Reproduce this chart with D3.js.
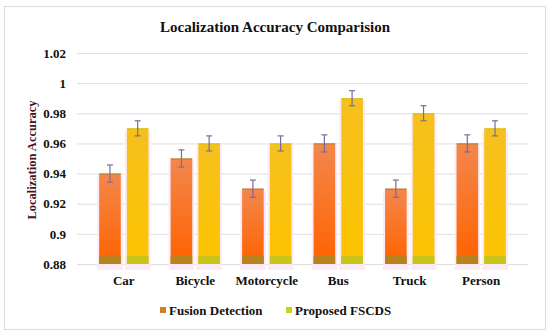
<!DOCTYPE html>
<html>
<head>
<meta charset="utf-8">
<script src="https://cdn.jsdelivr.net/npm/d3@7"></script>
<style>
  html, body { margin: 0; padding: 0; background: #fff; }
  svg { display: block; }
</style>
</head>
<body>
<script>
const categories = ["Car", "Bicycle", "Motorcycle", "Bus", "Truck", "Person"];
const seriesNames = ["Fusion Detection", "Proposed FSCDS"];
const fusionValues = [0.94, 0.95, 0.93, 0.96, 0.93, 0.96];
const fscdsValues = [0.97, 0.96, 0.96, 0.99, 0.98, 0.97];
const fusionErrors = [0.0057, 0.0057, 0.0057, 0.0057, 0.0057, 0.0057];
const fscdsErrors = [0.005, 0.005, 0.005, 0.005, 0.005, 0.005];
const yTicks = [0.88, 0.9, 0.92, 0.94, 0.96, 0.98, 1, 1.02];

const width = 550, height = 336;
const margin = { top: 53, right: 22, bottom: 72, left: 77 };
const iw = width - margin.left - margin.right;
const ih = height - margin.top - margin.bottom;
const font = "'Liberation Serif', 'Times New Roman', serif";

const rows = categories.map((c, i) => ({
  category: c,
  bars: [
    { key: seriesNames[0], value: fusionValues[i], err: fusionErrors[i] },
    { key: seriesNames[1], value: fscdsValues[i], err: fscdsErrors[i] },
  ],
}));

const x0 = d3.scaleBand().domain(categories).range([0, iw]).padding(0.31);
const x1 = d3.scaleBand().domain(seriesNames).range([0, x0.bandwidth()]).paddingInner(0.22);
const y = d3.scaleLinear().domain([0.88, 1.02]).range([ih, 0]);

const svg = d3.select("body").append("svg")
  .attr("width", width).attr("height", height)
  .attr("viewBox", `0 0 ${width} ${height}`);

// gradients
const defs = svg.append("defs");
const gradOrange = defs.append("linearGradient").attr("id", "gOrange")
  .attr("x1", 0).attr("y1", 0).attr("x2", 0).attr("y2", 1);
gradOrange.append("stop").attr("offset", "0%").attr("stop-color", "#f3874c");
gradOrange.append("stop").attr("offset", "100%").attr("stop-color", "#ff6200");
const gradYellow = defs.append("linearGradient").attr("id", "gYellow")
  .attr("x1", 0).attr("y1", 0).attr("x2", 0).attr("y2", 1);
gradYellow.append("stop").attr("offset", "0%").attr("stop-color", "#f6c01e");
gradYellow.append("stop").attr("offset", "100%").attr("stop-color", "#fcc400");

const fills = { "Fusion Detection": "url(#gOrange)", "Proposed FSCDS": "url(#gYellow)" };
const baseFills = { "Fusion Detection": "#b8821e", "Proposed FSCDS": "#c9c419" };
const edgeColors = { "Fusion Detection": "#a8882a", "Proposed FSCDS": "#d6c020" };
const legendColors = { "Fusion Detection": "#d27d2a", "Proposed FSCDS": "#c8d21c" };

// outer frame
svg.append("rect")
  .attr("x", 4.5).attr("y", 6.5).attr("width", 541).attr("height", 323)
  .attr("fill", "none").attr("stroke", "#dcdcdc").attr("stroke-width", 1);

// title
svg.append("text")
  .attr("x", 275).attr("y", 32)
  .attr("text-anchor", "middle")
  .style("font-family", font).style("font-size", "15px").style("font-weight", "bold")
  .attr("fill", "#111")
  .text("Localization Accuracy Comparision");

const g = svg.append("g").attr("transform", `translate(${margin.left},${margin.top})`);

// gridlines + y labels
const yAxis = g.append("g")
  .call(d3.axisLeft(y).tickValues(yTicks).tickSize(-iw).tickFormat(d3.format("~g")));
yAxis.select(".domain").remove();
yAxis.selectAll(".tick line").attr("stroke", "#dedede").attr("stroke-width", 1);
yAxis.selectAll(".tick text")
  .attr("x", -11)
  .style("font-family", font).style("font-size", "13px").style("font-weight", "bold")
  .attr("fill", "#111");

// y title
svg.append("text")
  .attr("transform", "translate(32,160) rotate(-90)")
  .attr("dy", "0.35em")
  .attr("text-anchor", "middle")
  .style("font-family", font).style("font-size", "12.5px").style("font-weight", "bold")
  .attr("fill", "#4a1020")
  .text("Localization Accuracy");

// bars
const groups = g.selectAll("g.group")
  .data(rows)
  .join("g")
  .attr("class", "group")
  .attr("transform", (d) => `translate(${x0(d.category)},0)`);

const bar = groups.selectAll("g.bar")
  .data((d) => d.bars)
  .join("g")
  .attr("class", "bar");

// faint pink glow
bar.append("rect")
  .attr("x", (d) => x1(d.key) - 2)
  .attr("y", (d) => y(d.value) + 2)
  .attr("width", x1.bandwidth() + 4)
  .attr("height", (d) => ih - y(d.value) + 4)
  .attr("fill", "#fcebf6");

bar.append("rect")
  .attr("x", (d) => x1(d.key))
  .attr("y", (d) => y(d.value))
  .attr("width", x1.bandwidth())
  .attr("height", (d) => ih - y(d.value))
  .attr("fill", (d) => fills[d.key]);

// darker base strip
bar.append("rect")
  .attr("x", (d) => x1(d.key))
  .attr("y", ih - 8)
  .attr("width", x1.bandwidth())
  .attr("height", 8)
  .attr("fill", (d) => baseFills[d.key]);

// thin top edge
bar.append("line")
  .attr("x1", (d) => x1(d.key)).attr("x2", (d) => x1(d.key) + x1.bandwidth())
  .attr("y1", (d) => y(d.value) + 0.5).attr("y2", (d) => y(d.value) + 0.5)
  .attr("stroke", (d) => edgeColors[d.key]).attr("stroke-width", 1);

// error bars
const errColor = "#7a6a9e";
const err = bar.append("g")
  .attr("transform", (d) => `translate(${x1(d.key) + x1.bandwidth() / 2},0)`)
  .attr("stroke", errColor).attr("stroke-width", 1.2);
err.append("line")
  .attr("x1", 0).attr("x2", 0)
  .attr("y1", (d) => y(d.value + d.err)).attr("y2", (d) => y(d.value - d.err));
err.append("line")
  .attr("x1", -3).attr("x2", 3)
  .attr("y1", (d) => y(d.value + d.err)).attr("y2", (d) => y(d.value + d.err));
err.append("line")
  .attr("x1", -3).attr("x2", 3)
  .attr("y1", (d) => y(d.value - d.err)).attr("y2", (d) => y(d.value - d.err));

// category labels
g.append("g")
  .selectAll("text")
  .data(categories)
  .join("text")
  .attr("x", (d) => x0(d) + x0.bandwidth() / 2)
  .attr("y", ih + 21)
  .attr("text-anchor", "middle")
  .style("font-family", font).style("font-size", "13px").style("font-weight", "bold")
  .attr("fill", "#111")
  .text((d) => d);

// legend
const legendX = [160, 286];
const lg = svg.append("g").attr("transform", `translate(0,${height - 26})`);
seriesNames.forEach((s, i) => {
  lg.append("rect")
    .attr("x", legendX[i]).attr("y", -3)
    .attr("width", 6).attr("height", 6)
    .attr("fill", legendColors[s]);
  lg.append("text")
    .attr("x", legendX[i] + 9).attr("y", 4.5)
    .style("font-family", font).style("font-size", "13px").style("font-weight", "bold")
    .attr("fill", "#111")
    .text(s);
});
</script>
</body>
</html>
